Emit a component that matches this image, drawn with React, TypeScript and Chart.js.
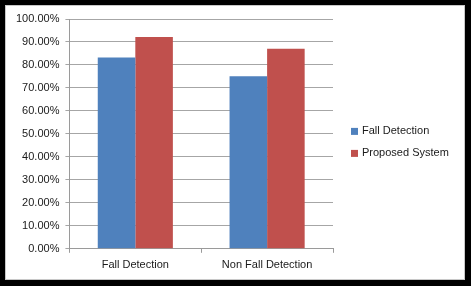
import React, { useEffect, useRef } from "react";
import { Chart, registerables } from "chart.js";

Chart.register(...registerables);

const categories = ["Fall Detection", "Non Fall Detection"];
const fallDetectionValues = [83.3, 75.1];
const proposedSystemValues = [92.2, 87.0];
const seriesNames = ["Fall Detection", "Proposed System"];
const seriesColors = ["#4F81BD", "#C0504D"];

const FONT = "Liberation Sans, Arial, sans-serif";

const sideLegend = {
  id: "sideLegend",
  afterDraw(chart: any) {
    const { ctx, chartArea } = chart;
    const datasets = chart.data.datasets;
    const rowGap = 22;
    const x = chartArea.right + 18;
    const yMid = (chartArea.top + chartArea.bottom) / 2 + 8.5;
    const y0 = yMid - ((datasets.length - 1) * rowGap) / 2;
    ctx.save();
    ctx.font = `11px ${FONT}`;
    ctx.textBaseline = "middle";
    ctx.textAlign = "left";
    datasets.forEach((ds: any, i: number) => {
      const y = y0 + i * rowGap;
      ctx.fillStyle = ds.backgroundColor;
      ctx.fillRect(x, y - 3.5, 7, 7);
      ctx.fillStyle = "#1a1a1a";
      ctx.fillText(ds.label, x + 11, y);
    });
    ctx.restore();
  },
};

export default function App() {
  const canvasRef = useRef<HTMLCanvasElement | null>(null);

  useEffect(() => {
    if (!canvasRef.current) return;
    const chart = new Chart(canvasRef.current, {
      type: "bar",
      data: {
        labels: categories,
        datasets: [
          {
            label: seriesNames[0],
            data: fallDetectionValues,
            backgroundColor: seriesColors[0],
            borderWidth: 0,
          },
          {
            label: seriesNames[1],
            data: proposedSystemValues,
            backgroundColor: seriesColors[1],
            borderWidth: 0,
          },
        ],
      },
      options: {
        animation: false,
        responsive: false,
        maintainAspectRatio: false,
        layout: { padding: { left: 10, top: 19, right: 138, bottom: 8 } },
        datasets: { bar: { barPercentage: 1, categoryPercentage: 0.57 } },
        plugins: {
          tooltip: { enabled: false },
          legend: { display: false },
        },
        scales: {
          x: {
            offset: true,
            grid: {
              offset: true,
              drawOnChartArea: false,
              drawTicks: true,
              tickLength: 4,
              color: "#9a9a9a",
            },
            border: { display: true, color: "#9a9a9a" },
            ticks: {
              padding: 6,
              color: "#1a1a1a",
              font: { family: FONT, size: 11 },
            },
          },
          y: {
            min: 0,
            max: 100,
            ticks: {
              stepSize: 10,
              padding: 6,
              color: "#1a1a1a",
              font: { family: FONT, size: 11 },
              callback: (v: any) => Number(v).toFixed(2) + "%",
            },
            grid: { color: "#a6a6a6", tickLength: 4, drawTicks: true },
            border: { display: true, color: "#9a9a9a" },
          },
        },
      },
      plugins: [sideLegend],
    });
    return () => chart.destroy();
  }, []);

  return (
    <div style={{ position: "fixed", left: 0, top: 0, width: 471, height: 286, background: "#000" }}>
      <div
        style={{
          position: "absolute",
          left: 5,
          top: 5,
          width: 458,
          height: 273,
          background: "#fff",
          border: "1px solid #c8c8c8",
        }}
      />
      <canvas
        ref={canvasRef}
        width={471}
        height={286}
        style={{ position: "absolute", left: 0, top: 0, width: 471, height: 286 }}
      />
    </div>
  );
}
